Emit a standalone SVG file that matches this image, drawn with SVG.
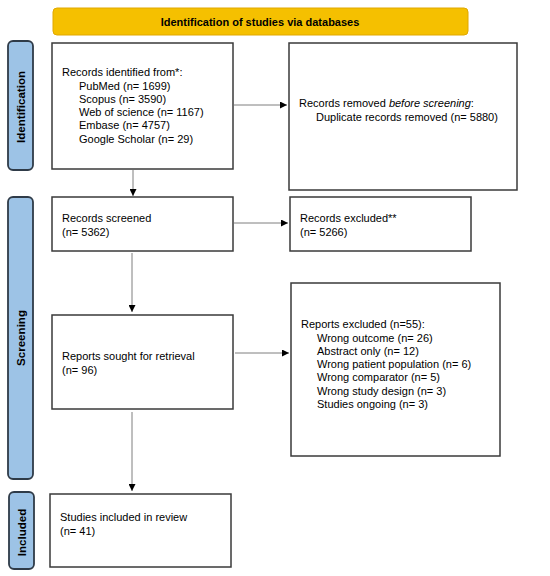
<svg xmlns="http://www.w3.org/2000/svg" width="550" height="576" viewBox="0 0 550 576">
<style>
text{font-family:"Liberation Sans",Arial,sans-serif;font-size:11px;fill:#000}
.b{font-weight:bold}
.s{font-weight:bold;font-size:11.6px}
.box{fill:#fff;stroke:#3a3a3a;stroke-width:1.5}
.side{fill:#9dc3e6;stroke:#2f3b48;stroke-width:1.8}
.ban{fill:#f5c000;stroke:#e0a800;stroke-width:1}
.con{stroke:#7f7f7f;stroke-width:1;fill:none}
</style>
<defs>
<marker id="ah" viewBox="0 0 10 10" refX="10" refY="5" markerWidth="7" markerHeight="7" markerUnits="userSpaceOnUse" orient="auto">
<path d="M0,0L10,5L0,10z" fill="#000"/>
</marker>
</defs>
<rect width="550" height="576" fill="#fff"/>
<g id="banner">
<rect class="ban" x="53" y="8" width="415" height="27" rx="4"/>
<text class="b" x="260" y="25.5" text-anchor="middle">Identification of studies via databases</text>
</g>
<g id="side-identification">
<rect class="side" x="8" y="41" width="25" height="129" rx="5"/>
<text class="s" transform="translate(25,107) rotate(-90)" text-anchor="middle">Identification</text>
</g>
<g id="side-screening">
<rect class="side" x="8" y="197" width="25" height="282" rx="5"/>
<text class="s" transform="translate(25,338) rotate(-90)" text-anchor="middle">Screening</text>
</g>
<g id="side-included">
<rect class="side" x="9" y="492" width="25" height="77" rx="5"/>
<text class="s" transform="translate(26,532.5) rotate(-90)" text-anchor="middle">Included</text>
</g>
<g id="records-identified">
<rect class="box" x="52" y="43" width="181" height="126"/>
<text x="62" y="76">Records identified from*:</text>
<text x="79" y="89.5">PubMed (n= 1699)</text>
<text x="79" y="102.5">Scopus (n= 3590)</text>
<text x="79" y="116">Web of science (n= 1167)</text>
<text x="79" y="129">Embase (n= 4757)</text>
<text x="79" y="142.5">Google Scholar (n= 29)</text>
</g>
<g id="records-removed">
<rect class="box" x="289" y="43" width="228" height="147"/>
<text x="299" y="107">Records removed <tspan font-style="italic">before screening</tspan>:</text>
<text x="316" y="121">Duplicate records removed (n= 5880)</text>
</g>
<g id="records-screened">
<rect class="box" x="52" y="197" width="181" height="54"/>
<text x="62" y="222">Records screened</text>
<text x="62" y="235.5">(n= 5362)</text>
</g>
<g id="records-excluded">
<rect class="box" x="290" y="197" width="181" height="54"/>
<text x="300" y="222">Records excluded**</text>
<text x="300" y="235.5">(n= 5266)</text>
</g>
<g id="reports-sought">
<rect class="box" x="52" y="315" width="181" height="94"/>
<text x="62" y="360">Reports sought for retrieval</text>
<text x="62" y="373.5">(n= 96)</text>
</g>
<g id="reports-excluded">
<rect class="box" x="291" y="283" width="209" height="173"/>
<text x="301" y="328">Reports excluded (n=55):</text>
<text x="317" y="341.5">Wrong outcome (n= 26)</text>
<text x="317" y="354.5">Abstract only (n= 12)</text>
<text x="317" y="368">Wrong patient population (n= 6)</text>
<text x="317" y="381">Wrong comparator (n= 5)</text>
<text x="317" y="394.5">Wrong study design (n= 3)</text>
<text x="317" y="407.5">Studies ongoing (n= 3)</text>
</g>
<g id="studies-included">
<rect class="box" x="50" y="494" width="181" height="73"/>
<text x="60" y="521">Studies included in review</text>
<text x="60" y="535">(n= 41)</text>
</g>
<g id="connectors">
<line class="con" x1="234" y1="105" x2="287" y2="105" marker-end="url(#ah)"/>
<line class="con" x1="133" y1="170" x2="133" y2="196" marker-end="url(#ah)"/>
<line class="con" x1="234" y1="223" x2="288" y2="223" marker-end="url(#ah)"/>
<line class="con" x1="132" y1="253" x2="132" y2="312" marker-end="url(#ah)"/>
<line class="con" x1="235" y1="353" x2="289" y2="353" marker-end="url(#ah)"/>
<line class="con" x1="132" y1="412" x2="132" y2="491" marker-end="url(#ah)"/>
</g>
</svg>
